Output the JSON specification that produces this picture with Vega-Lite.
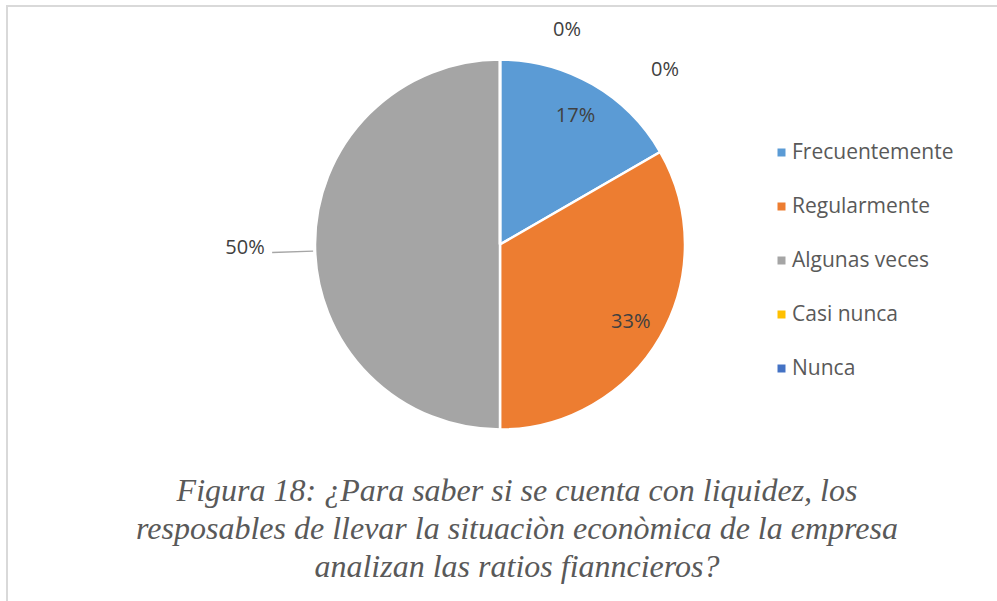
{
  "$schema": "https://vega.github.io/schema/vega-lite/v6.json",
  "autosize": {"type": "none"},
  "padding": {"left": 7, "top": 6, "right": 0, "bottom": 0},
  "width": 1000,
  "height": 600,
  "background": "white",
  "view": {"stroke": "#D9D9D9", "strokeWidth": 2},
  "config": {
    "font": "Open Sans"
  },
  "title": {
    "text": ["Figura 18: ¿Para saber si se cuenta con liquidez, los", "resposables de llevar la situaciòn econòmica de la empresa", "analizan las ratios fiannciеros?"],
    "orient": "top",
    "anchor": "middle",
    "offset": 0,
    "baseline": "top",
    "dx": 10,
    "dy": 601,
    "font": "Liberation Serif",
    "fontStyle": "italic",
    "fontWeight": "normal",
    "fontSize": 32,
    "lineHeight": 38,
    "color": "#595959"
  },
  "data": {
    "values": [
      {"cat": "Frecuentemente", "value": 1, "label": "17%", "idx": 1},
      {"cat": "Regularmente", "value": 2, "label": "33%", "idx": 2},
      {"cat": "Algunas veces", "value": 3, "label": "50%", "idx": 3},
      {"cat": "Casi nunca", "value": 0, "label": "0%", "idx": 4},
      {"cat": "Nunca", "value": 0, "label": "0%", "idx": 5}
    ]
  },
  "encoding": {
    "theta": {"field": "value", "type": "quantitative", "stack": true},
    "order": {"field": "idx", "type": "quantitative"}
  },
  "layer": [
    {
      "mark": {"type": "arc", "x": 493, "y": 238.5, "outerRadius": 185, "stroke": "white", "strokeWidth": 2.5},
      "encoding": {
        "color": {
          "field": "cat",
          "type": "nominal",
          "scale": {
            "domain": ["Frecuentemente", "Regularmente", "Algunas veces", "Casi nunca", "Nunca"],
            "range": ["#5B9BD5", "#ED7D31", "#A5A5A5", "#FFC000", "#4472C4"]
          },
          "legend": {
            "orient": "none",
            "legendX": 764,
            "legendY": 136,
            "title": null,
            "padding": 0,
            "symbolType": "square",
            "symbolSize": 64,
            "symbolStrokeWidth": 0,
            "labelFont": "Open Sans",
            "labelFontSize": 21,
            "labelColor": "#595959",
            "labelOffset": 0,
            "labelLimit": 300,
            "rowPadding": 32
          }
        }
      }
    },
    {
      "transform": [
        {"stack": "value", "groupby": [], "sort": [{"field": "idx", "order": "ascending"}], "as": ["v0", "v1"]},
        {"filter": "datum.cat === 'Algunas veces'"}
      ],
      "mark": {"type": "arc", "x": 493, "y": 238.5, "innerRadius": 187, "outerRadius": 228, "thetaOffset": 1.5325, "theta2Offset": -1.6029, "color": "#A6A6A6"},
      "encoding": {
        "theta": {"field": "v0", "type": "quantitative", "stack": null},
        "theta2": {"field": "v1"}
      }
    },
    {
      "mark": {"type": "text", "x": 493, "y": 238.5, "radius": 151, "dy": 2, "fontSize": 20, "font": "Open Sans", "color": "#404040"},
      "encoding": {
        "text": {"condition": {"test": "datum.cat === 'Frecuentemente' || datum.cat === 'Regularmente'", "field": "label"}, "value": ""}
      }
    },
    {
      "mark": {"type": "text", "x": 493, "y": 238.5, "radius": 255, "dy": 3, "fontSize": 20, "font": "Open Sans", "color": "#404040"},
      "encoding": {
        "text": {"condition": {"test": "datum.cat === 'Algunas veces'", "field": "label"}, "value": ""}
      }
    },
    {
      "mark": {"type": "text", "x": 493, "y": 238.5, "radius": 214.5, "dx": 67, "fontSize": 20, "font": "Open Sans", "color": "#404040"},
      "encoding": {
        "text": {"condition": {"test": "datum.cat === 'Casi nunca'", "field": "label"}, "value": ""}
      }
    },
    {
      "mark": {"type": "text", "x": 493, "y": 238.5, "radius": 174.5, "dx": 165, "fontSize": 20, "font": "Open Sans", "color": "#404040"},
      "encoding": {
        "text": {"condition": {"test": "datum.cat === 'Nunca'", "field": "label"}, "value": ""}
      }
    }
  ]
}
